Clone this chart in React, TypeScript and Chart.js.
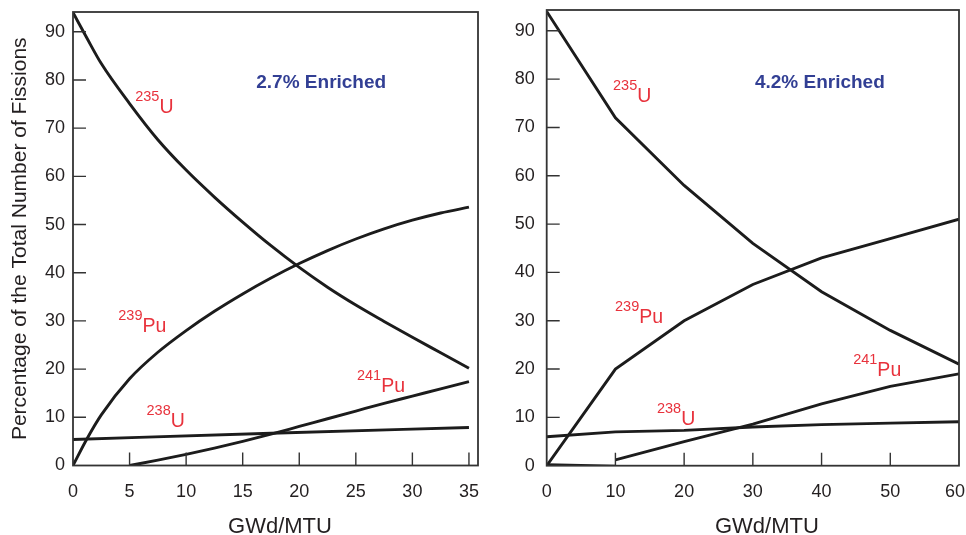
import React, { useEffect, useRef } from "react";
import { Chart, registerables } from "chart.js";
Chart.register(...registerables);

const FONT = '"Liberation Sans", Arial, Helvetica, sans-serif';
const RED = "#e8323c";
const BLUE = "#323f94";
const INK = "#1c1c1c";
const TEXT = "#231f20";

// ---------- Left panel: 2.7% enriched ----------
const leftXTicks = [0, 5, 10, 15, 20, 25, 30, 35];
const leftYTicks = [0, 10, 20, 30, 40, 50, 60, 70, 80, 90];
const leftX = [0, 1.25, 2.5, 5, 7.5, 10, 12.5, 15, 17.5, 20, 22.5, 25, 27.5, 30, 32.5, 35];
const leftU235 = [94, 88.6, 83.4, 75.1, 67.6, 61.3, 55.7, 50.5, 45.6, 41.1, 37.0, 33.3, 29.9, 26.6, 23.4, 20.2];
const leftPu239 = [0, 5.6, 10.5, 18.0, 23.5, 28.0, 32.0, 35.6, 38.9, 41.9, 44.6, 47.0, 49.1, 50.9, 52.4, 53.6];
const leftU238X = [0, 17.5, 35];
const leftU238 = [5.4, 6.7, 7.9];
const leftPu241X = [5, 7.5, 10, 12.5, 15, 17.5, 20, 22.5, 25, 27.5, 30, 32.5, 35];
const leftPu241 = [0, 1.1, 2.3, 3.6, 5.0, 6.5, 8.1, 9.7, 11.3, 12.9, 14.4, 15.9, 17.4];

// isotope labels
const leftLabelMass = ["235", "239", "238", "241"];
const leftLabelElem = ["U", "Pu", "U", "Pu"];
const leftLabelX = [5.5, 4.0, 6.5, 25.1];
const leftLabelY = [73.1, 27.6, 8.05, 15.3];
const leftTitle = "2.7% Enriched";
const leftTitleX = 16.2;
const leftTitleY = 78.3;

// ---------- Right panel: 4.2% enriched ----------
const rightXTicks = [0, 10, 20, 30, 40, 50, 60];
const rightYTicks = [0, 10, 20, 30, 40, 50, 60, 70, 80, 90];
const rightX = [0, 10, 20, 30, 40, 50, 60];
const rightU235 = [94, 72, 58, 46, 36, 28, 21];
const rightPu239 = [0, 20, 30, 37.5, 43, 47, 51];
const rightU238 = [6, 7, 7.3, 8, 8.5, 8.8, 9.1];
const rightPu241X = [10, 20, 30, 40, 50, 60];
const rightPu241 = [1.2, 5, 8.6, 12.8, 16.4, 19];
const rightBaseX = [0, 10];
const rightBase = [0.3, 0];

const rightLabelMass = ["235", "239", "238", "241"];
const rightLabelElem = ["U", "Pu", "U", "Pu"];
const rightLabelX = [9.65, 9.94, 16.05, 44.6];
const rightLabelY = [75.2, 29.5, 8.4, 18.6];
const rightTitle = "4.2% Enriched";
const rightTitleX = 30.3;
const rightTitleY = 78.2;

const xAxisTitle = "GWd/MTU";
const yAxisTitle = "Percentage of the Total Number of Fissions";

const pts = (xs: number[], ys: number[]) => xs.map((x, i) => ({ x, y: ys[i] }));

type Panel = {
  width: number;
  height: number;
  yWidth: number;
  xHeight: number;
  padTop: number;
  padRight: number;
  xMax: number;
  yMax: number;
  xTicks: number[];
  yTicks: number[];
  xMarks: number[];
  yMarks: number[];
  yLabelPad: number;
  tension: number;
  series: { data: { x: number; y: number }[]; width: number }[];
  mass: string[];
  elem: string[];
  lx: number[];
  ly: number[];
  title: string;
  tx: number;
  ty: number;
  xTitleOffset: number;
  showYTitle: boolean;
};

function makeDecor(p: Panel) {
  return {
    id: "decor",
    afterDraw(chart: any) {
      const { ctx, chartArea: a, scales } = chart;
      const xs = scales.x;
      const ys = scales.y;
      ctx.save();
      // frame
      ctx.strokeStyle = "#333333";
      ctx.lineWidth = 1.8;
      ctx.strokeRect(a.left, a.top, a.right - a.left, a.bottom - a.top);
      // inward tick marks
      ctx.lineWidth = 1.4;
      ctx.beginPath();
      p.xMarks.forEach((v) => {
        const px = xs.getPixelForValue(v);
        ctx.moveTo(px, a.bottom);
        ctx.lineTo(px, a.bottom - 13);
      });
      p.yMarks.forEach((v) => {
        const py = ys.getPixelForValue(v);
        ctx.moveTo(a.left, py);
        ctx.lineTo(a.left + 13, py);
      });
      ctx.stroke();

      // x tick labels (kept inside the canvas)
      ctx.fillStyle = TEXT;
      ctx.font = `18px ${FONT}`;
      ctx.textAlign = "left";
      ctx.textBaseline = "alphabetic";
      p.xTicks.forEach((v) => {
        const s = String(v);
        const w = ctx.measureText(s).width;
        let x0 = xs.getPixelForValue(v) - w / 2;
        x0 = Math.min(x0, p.width - w - 1);
        ctx.fillText(s, x0, a.bottom + 31.5);
      });

      // isotope labels
      ctx.fillStyle = RED;
      p.mass.forEach((m, i) => {
        const px = xs.getPixelForValue(p.lx[i]);
        const py = ys.getPixelForValue(p.ly[i]);
        ctx.font = `14.5px ${FONT}`;
        ctx.fillText(m, px, py - 12);
        const w = ctx.measureText(m).width;
        ctx.font = `19.5px ${FONT}`;
        ctx.fillText(p.elem[i], px + w, py);
      });

      // enrichment title
      ctx.fillStyle = BLUE;
      ctx.font = `bold 19px ${FONT}`;
      ctx.fillText(p.title, xs.getPixelForValue(p.tx), ys.getPixelForValue(p.ty));

      // x axis title
      ctx.fillStyle = TEXT;
      ctx.font = `22px ${FONT}`;
      ctx.textAlign = "center";
      ctx.fillText(xAxisTitle, (a.left + a.right) / 2 + p.xTitleOffset, p.height - 2);

      // y axis title
      if (p.showYTitle) {
        ctx.translate(20, (a.top + a.bottom) / 2);
        ctx.rotate(-Math.PI / 2);
        ctx.textBaseline = "middle";
        ctx.font = `21px ${FONT}`;
        ctx.fillText(yAxisTitle, 0, 0);
      }
      ctx.restore();
    },
  };
}

function makeChart(canvas: HTMLCanvasElement, p: Panel) {
  const tickFont = { family: FONT, size: 18 };
  return new Chart(canvas, {
    type: "line",
    data: {
      datasets: p.series.map((s) => ({
        data: s.data,
        borderColor: INK,
        borderWidth: s.width,
        pointRadius: 0,
        fill: false,
        tension: p.tension,
        cubicInterpolationMode: p.tension > 0 ? "monotone" : "default",
      })) as any,
    },
    options: {
      responsive: false,
      animation: false,
      devicePixelRatio: 1,
      layout: { padding: { top: p.padTop, right: p.padRight, left: 0, bottom: 0 } },
      plugins: { legend: { display: false }, tooltip: { enabled: false } },
      scales: {
        x: {
          type: "linear",
          min: 0,
          max: p.xMax,
          afterBuildTicks: (s: any) => {
            s.ticks = p.xTicks.map((v) => ({ value: v }));
          },
          afterFit: (s: any) => {
            s.height = p.xHeight;
            s.paddingLeft = 0;
            s.paddingRight = 0;
            s.paddingTop = 0;
            s.paddingBottom = 0;
          },
          ticks: { display: false, font: tickFont, color: TEXT },
          grid: { display: false, drawTicks: false },
          border: { display: false },
        },
        y: {
          type: "linear",
          min: 0,
          max: p.yMax,
          afterBuildTicks: (s: any) => {
            s.ticks = p.yTicks.map((v) => ({ value: v }));
          },
          afterFit: (s: any) => {
            s.width = p.yWidth;
            s.paddingLeft = 0;
            s.paddingRight = 0;
            s.paddingTop = 0;
            s.paddingBottom = 0;
          },
          ticks: { font: tickFont, color: TEXT, padding: p.yLabelPad, autoSkip: false },
          grid: { display: false, drawTicks: false },
          border: { display: false },
        },
      },
    } as any,
    plugins: [makeDecor(p)],
  });
}

const W = 483;
const H = 535;

const leftPanel: Panel = {
  width: W,
  height: H,
  yWidth: 73,
  xHeight: H - 465.5,
  padTop: 12,
  padRight: W - 478,
  xMax: 35.8,
  yMax: 94.1,
  xTicks: leftXTicks,
  yTicks: leftYTicks,
  xMarks: leftXTicks.slice(1),
  yMarks: leftYTicks.slice(1),
  yLabelPad: 8,
  tension: 0.4,
  series: [
    { data: pts(leftX, leftU235), width: 2.9 },
    { data: pts(leftX, leftPu239), width: 2.9 },
    { data: pts(leftU238X, leftU238), width: 2.9 },
    { data: pts(leftPu241X, leftPu241), width: 2.9 },
  ],
  mass: leftLabelMass,
  elem: leftLabelElem,
  lx: leftLabelX,
  ly: leftLabelY,
  title: leftTitle,
  tx: leftTitleX,
  ty: leftTitleY,
  xTitleOffset: 4.5,
  showYTitle: true,
};

const rightPanel: Panel = {
  width: W,
  height: H,
  yWidth: 546.7 - 483,
  xHeight: H - 465.7,
  padTop: 10,
  padRight: W - (959 - 483),
  xMax: 60,
  yMax: 94.3,
  xTicks: rightXTicks,
  yTicks: rightYTicks,
  xMarks: rightXTicks.slice(1, -1),
  yMarks: rightYTicks.slice(1),
  yLabelPad: 12,
  tension: 0,
  series: [
    { data: pts(rightX, rightU235), width: 2.9 },
    { data: pts(rightX, rightPu239), width: 2.9 },
    { data: pts(rightX, rightU238), width: 2.9 },
    { data: pts(rightPu241X, rightPu241), width: 2.9 },
    { data: pts(rightBaseX, rightBase), width: 1.8 },
  ],
  mass: rightLabelMass,
  elem: rightLabelElem,
  lx: rightLabelX,
  ly: rightLabelY,
  title: rightTitle,
  tx: rightTitleX,
  ty: rightTitleY,
  xTitleOffset: 14,
  showYTitle: false,
};

function PanelChart({ panel, left }: { panel: Panel; left: number }) {
  const ref = useRef<HTMLCanvasElement | null>(null);
  useEffect(() => {
    if (!ref.current) return;
    const chart = makeChart(ref.current, panel);
    return () => chart.destroy();
  }, [panel]);
  return (
    <canvas
      ref={ref}
      width={panel.width}
      height={panel.height}
      style={{ position: "absolute", left, top: 0, width: panel.width, height: panel.height }}
    />
  );
}

export default function App() {
  return (
    <div style={{ position: "fixed", left: 0, top: 0, width: 966, height: 535, background: "#fff", overflow: "hidden" }}>
      <PanelChart panel={leftPanel} left={0} />
      <PanelChart panel={rightPanel} left={W} />
    </div>
  );
}
